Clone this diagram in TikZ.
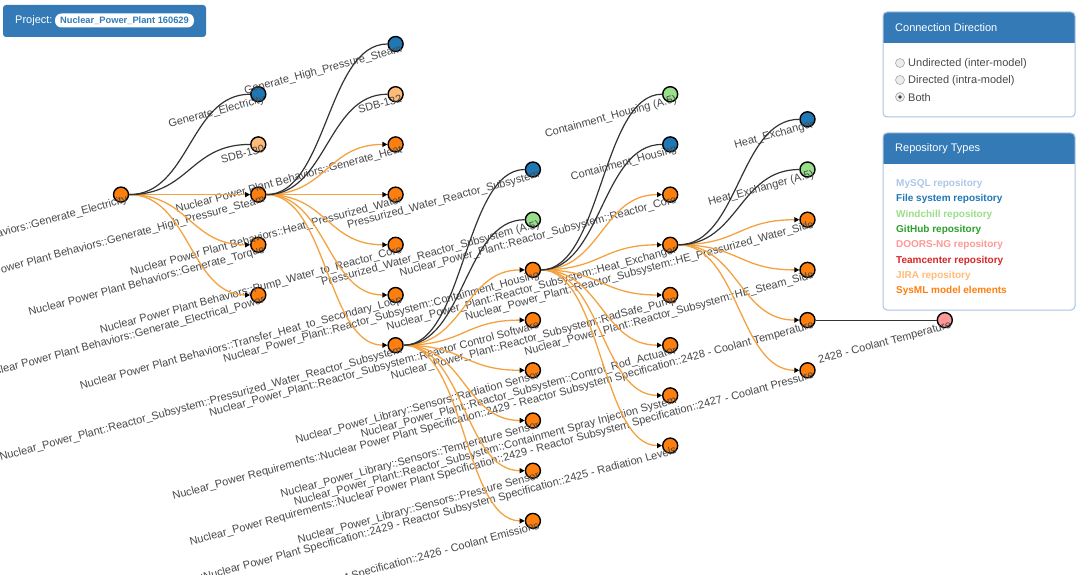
\documentclass[tikz,border=0pt]{standalone}
\usepackage{fontspec}
\setmainfont{Liberation Sans}
\usetikzlibrary{arrows.meta}

\definecolor{bsblue}{HTML}{337AB7}
\definecolor{panelline}{HTML}{A8C4E2}
\definecolor{fsblue}{HTML}{1F77B4}
\definecolor{mysqlblue}{HTML}{AEC7E8}
\definecolor{wcgreen}{HTML}{98DF8A}
\definecolor{ghgreen}{HTML}{2CA02C}
\definecolor{doorspink}{HTML}{FF9896}
\definecolor{tcred}{HTML}{D62728}
\definecolor{jiraorange}{HTML}{FFBB78}
\definecolor{sysorange}{HTML}{FF7F0E}
\definecolor{linkorange}{HTML}{F4A240}
\definecolor{linkgray}{HTML}{333333}
\definecolor{labelgray}{HTML}{484848}

\begin{document}
\begin{tikzpicture}[x=1pt, y=-1pt,
    elem/.style={circle, draw=black, line width=1.4pt, minimum size=15pt, inner sep=0pt},
    sysml/.style={elem, fill=sysorange},
    filesys/.style={elem, fill=fsblue},
    windchill/.style={elem, fill=wcgreen},
    jira/.style={elem, fill=jiraorange},
    doors/.style={elem, fill=doorspink},
    lbl/.style={anchor=north east, rotate=15, inner sep=0pt, text=labelgray, font=\fontsize{11}{13}\selectfont},
    directed/.style={draw=linkorange, line width=1.3pt, -{Triangle[length=5pt, width=5pt, color=black]}},
    undirected/.style={draw=linkgray, line width=1.2pt},
    paneltitle/.style={anchor=west, inner sep=0pt, text=white, font=\fontsize{11}{13}\selectfont},
    radiotext/.style={anchor=west, inner sep=0pt, text=labelgray, font=\fontsize{11}{13}\selectfont},
    repo/.style={anchor=west, inner sep=0pt, font=\bfseries\fontsize{10}{12}\selectfont},
    radio/.style={circle, draw=gray!70, fill=gray!15, line width=0.6pt, minimum size=9pt, inner sep=0pt}]
    \path[use as bounding box, clip] (0,0) rectangle (1080,575);

    % tree of linked elements
    \foreach \nm/\kind/\cx/\ry/\txt in {
        root/sysml/121/194.6/Nuclear Power Plant Behaviors::Generate\_Electricity,
        c2a/filesys/258.3/94.2/Generate\_Electricity,
        c2b/jira/258.3/144.4/SDB-130,
        c2c/sysml/258.3/194.6/Nuclear Power Plant Behaviors::Generate\_High\_Pressure\_Steam,
        c2d/sysml/258.3/244.8/Nuclear Power Plant Behaviors::Generate\_Torque,
        c2e/sysml/258.3/295/Nuclear Power Plant Behaviors::Generate\_Electrical\_Power,
        c3a/filesys/395.6/44/Generate\_High\_Pressure\_Steam,
        c3b/jira/395.6/94.2/SDB-132,
        c3c/sysml/395.6/144.4/Nuclear Power Plant Behaviors::Generate\_Heat,
        c3d/sysml/395.6/194.6/Nuclear Power Plant Behaviors::Heat\_Pressurized\_Water,
        c3e/sysml/395.6/244.8/Nuclear Power Plant Behaviors::Pump\_Water\_to\_Reactor\_Core,
        c3f/sysml/395.6/295/Nuclear Power Plant Behaviors::Transfer\_Heat\_to\_Secondary\_Loop,
        c3g/sysml/395.6/345.2/Nuclear\_Power\_Plant::Reactor\_Subsystem::Pressurized\_Water\_Reactor\_Subsystem,
        c4a/filesys/532.9/169.5/Pressurized\_Water\_Reactor\_Subsystem,
        c4b/windchill/532.9/219.7/Pressurized\_Water\_Reactor\_Subsystem (A.5),
        c4c/sysml/532.9/269.9/Nuclear\_Power\_Plant::Reactor\_Subsystem::Containment\_Housing,
        c4d/sysml/532.9/320.1/Nuclear\_Power\_Plant::Reactor\_Subsystem::Reactor Control Software,
        c4e/sysml/532.9/370.3/Nuclear\_Power\_Library::Sensors::Radiation Sensor,
        c4f/sysml/532.9/420.5/Nuclear\_Power\_Library::Sensors::Temperature Sensor,
        c4g/sysml/532.9/470.7/Nuclear\_Power\_Library::Sensors::Pressure Sensor,
        c4h/sysml/532.9/520.9/Nuclear\_Power Requirements::Nuclear Power Plant Specification::2426 - Coolant Emissions,
        c5a/windchill/670.2/94.2/Containment\_Housing (A.5),
        c5b/filesys/670.2/144.4/Containment\_Housing,
        c5c/sysml/670.2/194.6/Nuclear\_Power\_Plant::Reactor\_Subsystem::Reactor\_Core,
        c5d/sysml/670.2/244.8/Nuclear\_Power\_Plant::Reactor\_Subsystem::Heat\_Exchanger,
        c5e/sysml/670.2/295/Nuclear\_Power\_Plant::Reactor\_Subsystem::RadSafe\_Pump,
        c5f/sysml/670.2/345.2/Nuclear\_Power\_Plant::Reactor\_Subsystem::Control\_Rod\_Actuator,
        c5g/sysml/670.2/395.4/Nuclear\_Power\_Plant::Reactor\_Subsystem::Containment Spray Injection System,
        c5h/sysml/670.2/445.6/Nuclear\_Power Requirements::Nuclear Power Plant Specification::2429 - Reactor Subsystem Specification::2425 - Radiation Levels,
        c6a/filesys/807.5/119.3/Heat\_Exchanger,
        c6b/windchill/807.5/169.5/Heat\_Exchanger (A.5),
        c6c/sysml/807.5/219.7/Nuclear\_Power\_Plant::Reactor\_Subsystem::HE\_Pressurized\_Water\_Side,
        c6d/sysml/807.5/269.9/Nuclear\_Power\_Plant::Reactor\_Subsystem::HE\_Steam\_Side,
        c6e/sysml/807.5/320.1/Nuclear\_Power Requirements::Nuclear Power Plant Specification::2429 - Reactor Subsystem Specification::2428 - Coolant Temperature,
        c6f/sysml/807.5/370.3/Nuclear\_Power Requirements::Nuclear Power Plant Specification::2429 - Reactor Subsystem Specification::2427 - Coolant Pressure,
        c7a/doors/944.8/320.1/2428 - Coolant Temperature}{
        \node[\kind] (\nm) at (\cx,\ry) {};
        \node[lbl] (\nm-t) at ([xshift=5pt]\nm.center) {\txt};
    }

    % links
    \foreach \a/\b in {root/c2c, root/c2d, root/c2e, c2c/c3c, c2c/c3d, c2c/c3e, c2c/c3f, c2c/c3g,
        c3g/c4c, c3g/c4d, c3g/c4e, c3g/c4f, c3g/c4g, c3g/c4h,
        c4c/c5c, c4c/c5d, c4c/c5e, c4c/c5f, c4c/c5g, c4c/c5h,
        c5d/c6c, c5d/c6d, c5d/c6e, c5d/c6f}
        \draw[directed] (\a) .. controls +(68.6,0) and +(-68.6,0) .. (\b);
    \foreach \a/\b in {root/c2a, root/c2b, c2c/c3a, c2c/c3b, c3g/c4a, c3g/c4b,
        c4c/c5a, c4c/c5b, c5d/c6a, c5d/c6b, c6e/c7a}
        \draw[undirected] (\a) .. controls +(68.6,0) and +(-68.6,0) .. (\b);

    % project box
    \fill[bsblue, rounded corners=3pt] (3,5) rectangle (206,37);
    \node[paneltitle] (project) at (15,20.5) {Project:};
    \node[fill=white, rounded corners=6.5pt, minimum width=139pt, minimum height=14pt, inner sep=0pt,
        text=bsblue, font=\bfseries\fontsize{9.3}{11}\selectfont] (projname) at (124.5,20.5) {Nuclear\_Power\_Plant 160629};

    % connection direction panel
    \fill[white, rounded corners=4pt] (883,12) rectangle (1075,117);
    \begin{scope}
        \clip[rounded corners=4pt] (883,12) rectangle (1075,117);
        \fill[bsblue] (883,12) rectangle (1075,43);
    \end{scope}
    \draw[panelline, line width=1pt, rounded corners=4pt] (883,12) rectangle (1075,117);
    \node[paneltitle] (dirtitle) at (895,27.5) {Connection Direction};
    \node[radio] (rb1) at (900,63) {};
    \node[radio] (rb2) at (900,80) {};
    \node[radio] (rb3) at (900,97) {};
    \fill[gray!50!black] (rb3.center) circle (1.8);
    \node[radiotext] (rt1) at (908,63.5) {Undirected (inter-model)};
    \node[radiotext] (rt2) at (908,80.5) {Directed (intra-model)};
    \node[radiotext] (rt3) at (908,97.5) {Both};

    % repository types panel
    \fill[white, rounded corners=4pt] (883,133) rectangle (1075,310);
    \begin{scope}
        \clip[rounded corners=4pt] (883,133) rectangle (1075,310);
        \fill[bsblue] (883,133) rectangle (1075,164);
    \end{scope}
    \draw[panelline, line width=1pt, rounded corners=4pt] (883,133) rectangle (1075,310);
    \node[paneltitle] (repotitle) at (895,149) {Repository Types};
    \node[repo, text=mysqlblue] (r1) at (896,183.5) {MySQL repository};
    \node[repo, text=fsblue] (r2) at (896,199) {File system repository};
    \node[repo, text=wcgreen] (r3) at (896,214.5) {Windchill repository};
    \node[repo, text=ghgreen] (r4) at (896,230) {GitHub repository};
    \node[repo, text=doorspink] (r5) at (896,245) {DOORS-NG repository};
    \node[repo, text=tcred] (r6) at (896,260.5) {Teamcenter repository};
    \node[repo, text=jiraorange] (r7) at (896,275.5) {JIRA repository};
    \node[repo, text=sysorange] (r8) at (896,291) {SysML model elements};
\end{tikzpicture}
\end{document}
